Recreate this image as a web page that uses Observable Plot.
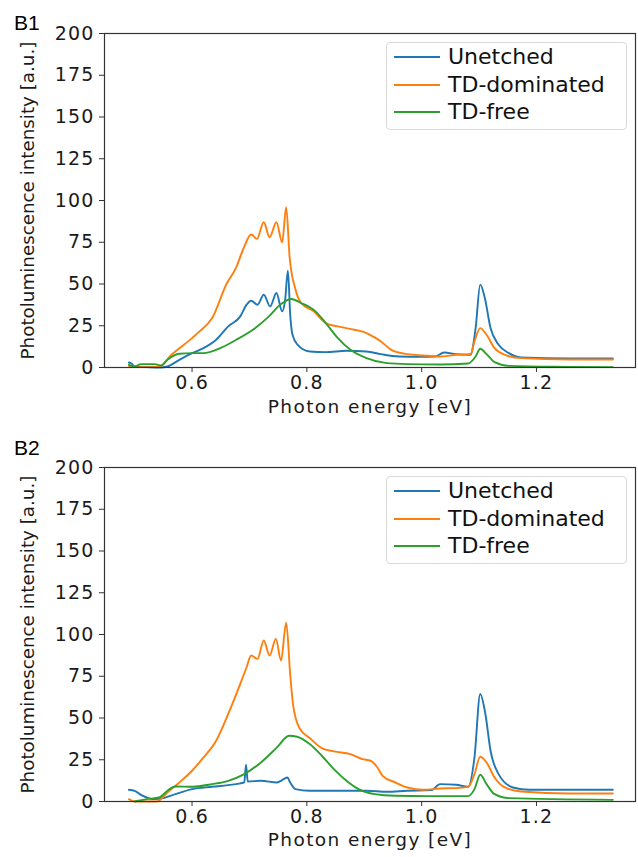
<!DOCTYPE html>
<html>
<head>
<meta charset="utf-8">
<script src="https://cdn.jsdelivr.net/npm/d3@7"></script>
<script src="https://cdn.jsdelivr.net/npm/@observablehq/plot@0.6"></script>
<style>
  html, body { margin: 0; padding: 0; background: #fff; }
  #fig { position: relative; width: 638px; height: 857px; font-family: "DejaVu Sans", sans-serif; }
  .panel { position: absolute; left: 0; width: 638px; }
  .tag { position: absolute; left: 14px; font-family: "Liberation Sans", Arial, sans-serif; font-size: 21px; color: #000; line-height: 1; }
  .legend { position: absolute; left: 386px; width: 241px; height: 88px; border: 1px solid #d9d9d9; border-radius: 4px; background: rgba(255,255,255,0.85); box-sizing: border-box; }
  .legend .row { position: absolute; left: 0; height: 0; }
  .legend .sw { position: absolute; left: 7px; width: 46px; height: 2px; top: -1px; }
  .legend .lb { position: absolute; left: 61px; top: -14px; font-size: 22px; line-height: 27px; white-space: nowrap; color: #111; }
  svg [aria-label="x-axis tick label"] text, svg [aria-label="y-axis tick label"] text { letter-spacing: 1.2px; }
</style>
</head>
<body>
<div id="fig"></div>
<script>
// ---- data ----
const seriesNames = ["Unetched", "TD-dominated", "TD-free"];
const seriesColors = ["#1f77b4", "#ff7f0e", "#2ca02c"];
const panelTags = ["B1", "B2"];
const xTicks = [0.6, 0.8, 1.0, 1.2];
const yTicks = [0, 25, 50, 75, 100, 125, 150, 175, 200];
const xLabel = "Photon energy [eV]";
const yLabel = "Photoluminescence intensity [a.u.]";

// Panel B1: [photon energy eV, intensity a.u.]
const b1Unetched = [[0.490,3.0],[0.495,2.2],[0.500,0.6],[0.520,0.3],[0.545,0.0],[0.557,0.6],[0.578,4.6],[0.600,8.6],[0.620,11.6],[0.642,16.6],[0.663,24.6],[0.684,30.6],[0.695,37.6],[0.703,40.0],[0.714,37.6],[0.725,43.6],[0.736,36.6],[0.747,44.6],[0.757,33.6],[0.762,40.0],[0.767,58.0],[0.771,31.6],[0.775,19.6],[0.784,13.6],[0.805,9.6],[0.833,9.2],[0.869,10.0],[0.904,9.6],[0.929,8.0],[0.960,6.6],[0.996,6.4],[1.024,6.6],[1.039,9.0],[1.060,8.0],[1.085,7.6],[1.094,23.6],[1.102,49.6],[1.110,41.6],[1.120,23.6],[1.134,13.6],[1.152,8.6],[1.173,6.0],[1.258,5.4],[1.333,5.4]];
const b1TDdominated = [[0.490,1.0],[0.500,0.3],[0.520,0.2],[0.543,0.5],[0.564,7.6],[0.600,17.6],[0.613,21.6],[0.635,29.6],[0.660,50.0],[0.677,60.0],[0.690,71.6],[0.703,79.6],[0.713,77.0],[0.725,87.0],[0.735,78.0],[0.747,87.0],[0.757,75.0],[0.764,96.0],[0.770,66.0],[0.780,47.0],[0.790,38.6],[0.812,33.6],[0.833,26.6],[0.854,24.6],[0.883,22.6],[0.904,20.6],[0.918,18.0],[0.929,15.6],[0.947,10.6],[0.975,8.0],[1.003,7.2],[1.032,6.6],[1.060,7.6],[1.085,8.0],[1.092,15.6],[1.102,23.6],[1.113,19.6],[1.127,11.6],[1.145,7.6],[1.173,5.6],[1.258,4.8],[1.333,4.8]];
const b1TDfree = [[0.490,1.6],[0.500,0.6],[0.511,2.0],[0.535,2.0],[0.546,1.2],[0.557,4.6],[0.578,8.2],[0.600,8.6],[0.620,8.6],[0.649,11.6],[0.677,16.6],[0.706,22.6],[0.734,30.6],[0.755,38.0],[0.773,41.0],[0.790,38.6],[0.815,33.6],[0.833,26.6],[0.854,17.6],[0.876,10.6],[0.904,5.6],[0.939,2.6],[0.975,2.0],[1.032,1.8],[1.081,2.4],[1.094,6.6],[1.102,11.2],[1.113,8.0],[1.127,3.2],[1.152,1.0],[1.250,0.4],[1.333,0.2]];

// Panel B2
const b2Unetched = [[0.490,7.0],[0.500,6.4],[0.511,4.0],[0.535,1.4],[0.550,2.0],[0.571,4.4],[0.600,7.4],[0.635,8.8],[0.663,9.8],[0.691,11.4],[0.694,22.0],[0.697,12.0],[0.720,12.4],[0.748,11.4],[0.755,12.4],[0.766,14.4],[0.771,11.4],[0.780,7.4],[0.805,6.4],[0.869,6.4],[0.904,6.4],[0.939,5.8],[0.975,6.4],[1.017,6.8],[1.032,10.4],[1.060,10.0],[1.081,8.8],[1.092,26.4],[1.102,64.4],[1.111,52.4],[1.120,30.4],[1.134,16.4],[1.159,8.4],[1.188,7.0],[1.333,7.0]];
const b2TDdominated = [[0.490,1.4],[0.500,0.0],[0.539,0.0],[0.557,5.4],[0.578,11.4],[0.600,18.4],[0.620,26.4],[0.642,36.4],[0.663,52.4],[0.684,70.4],[0.695,80.4],[0.703,87.4],[0.714,85.4],[0.725,96.4],[0.735,87.4],[0.746,97.4],[0.755,84.4],[0.764,107.0],[0.771,76.0],[0.776,58.0],[0.787,44.0],[0.805,38.0],[0.826,32.0],[0.847,30.0],[0.876,28.4],[0.897,25.4],[0.911,24.4],[0.922,20.8],[0.932,15.4],[0.954,11.4],[0.975,8.4],[1.003,7.0],[1.032,7.8],[1.060,8.0],[1.081,8.8],[1.092,16.4],[1.102,26.8],[1.113,23.4],[1.127,14.4],[1.145,8.4],[1.173,6.0],[1.258,4.8],[1.333,4.8]];
const b2TDfree = [[0.500,0.0],[0.521,1.4],[0.543,2.4],[0.557,6.4],[0.571,9.0],[0.600,8.8],[0.635,10.4],[0.663,12.4],[0.691,16.4],[0.720,23.4],[0.748,32.4],[0.769,39.4],[0.783,38.8],[0.805,34.4],[0.826,27.4],[0.847,19.4],[0.869,12.4],[0.890,7.4],[0.918,4.4],[0.954,3.4],[1.010,3.2],[1.081,3.2],[1.092,7.4],[1.102,16.0],[1.113,10.4],[1.127,4.4],[1.152,2.0],[1.333,1.0]];

const panelData = [
  [b1Unetched, b1TDdominated, b1TDfree],
  [b2Unetched, b2TDdominated, b2TDfree]
];

// ---- layout ----
const panels = [
  {top: 0,   height: 428, marginTop: 33, marginBottom: 61, tagTop: 12, xLabelDy: 45},
  {top: 428, height: 429, marginTop: 39, marginBottom: 56, tagTop: 9,  xLabelDy: 44.5}
];

const fig = document.getElementById("fig");

panels.forEach((p, i) => {
  const rows = [];
  panelData[i].forEach((pts, k) => pts.forEach(([e, v]) => rows.push({series: seriesNames[k], e, v})));

  const chart = Plot.plot({
    width: 638,
    height: p.height,
    marginLeft: 104,
    marginRight: 3,
    marginTop: p.marginTop,
    marginBottom: p.marginBottom,
    style: {fontFamily: "DejaVu Sans, sans-serif", fontSize: "19px", color: "#1a1a1a", background: "#fff", overflow: "visible"},
    x: {domain: [0.4475, 1.3725]},
    y: {domain: [0, 200]},
    color: {domain: seriesNames, range: seriesColors},
    marks: [
      Plot.line(rows, {x: "e", y: "v", z: "series", stroke: "series", strokeWidth: 1.9, curve: "monotone-x"}),
      Plot.frame({stroke: "#333", strokeWidth: 1.2}),
      Plot.axisX({ticks: xTicks, tickFormat: d3.format(".1f"), tickSize: 5, tickPadding: 3, label: null, stroke: "#333", fontSize: 19, fill: "#1a1a1a"}),
      Plot.axisY({ticks: yTicks, tickSize: 5, tickPadding: 5, label: null, stroke: "#333", fontSize: 19, fill: "#1a1a1a"}),
      Plot.text([xLabel], {frameAnchor: "bottom", dy: p.xLabelDy, text: d => d, fontSize: 18.5, fill: "#1a1a1a"}),
      Plot.text([yLabel], {frameAnchor: "left", textAnchor: "middle", dx: -76, rotate: -90, text: d => d, fontSize: 18.3, fill: "#1a1a1a"})
    ]
  });

  // widen the x-axis title slightly, as in the reference
  d3.select(chart).selectAll("text").filter(function() { return this.textContent === xLabel; })
    .style("letter-spacing", "1.4px");

  const wrap = document.createElement("div");
  wrap.className = "panel";
  wrap.style.top = p.top + "px";
  wrap.style.height = p.height + "px";
  wrap.appendChild(chart);

  const tag = document.createElement("div");
  tag.className = "tag";
  tag.style.top = p.tagTop + "px";
  tag.textContent = panelTags[i];
  wrap.appendChild(tag);

  const legend = document.createElement("div");
  legend.className = "legend";
  legend.style.top = (p.marginTop + 9) + "px";
  seriesNames.forEach((name, k) => {
    const row = document.createElement("div");
    row.className = "row";
    row.style.top = (14 + k * 27.5) + "px";
    const sw = document.createElement("div");
    sw.className = "sw";
    sw.style.background = seriesColors[k];
    const lb = document.createElement("div");
    lb.className = "lb";
    lb.textContent = name;
    row.appendChild(sw);
    row.appendChild(lb);
    legend.appendChild(row);
  });
  wrap.appendChild(legend);

  fig.appendChild(wrap);
});
</script>
</body>
</html>
